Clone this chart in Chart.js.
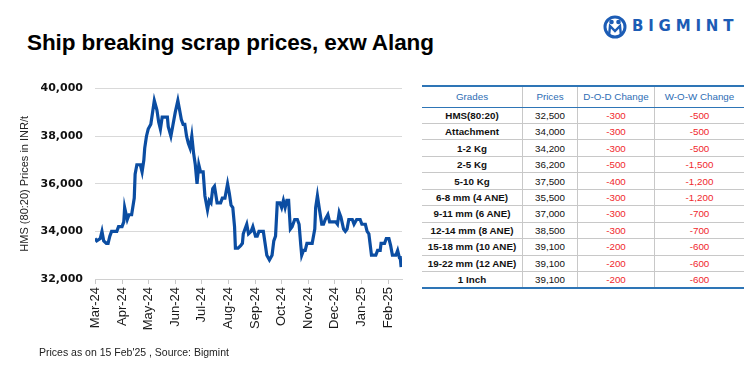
<!DOCTYPE html>
<html>
<head>
<meta charset="utf-8">
<script src="https://cdn.jsdelivr.net/npm/chart.js@4.4.1/dist/chart.umd.min.js"></script>
<style>
body{margin:0;width:756px;height:374px;background:#fff;position:relative;overflow:hidden;font-family:"Liberation Sans",Arial,sans-serif}
#title{position:absolute;left:27px;top:32px;font:bold 22.5px/22px "Liberation Sans",Arial,sans-serif;letter-spacing:-0.1px;color:#000;white-space:nowrap}
#logo{position:absolute;left:603px;top:15px;height:22px;white-space:nowrap}
#logo svg{position:absolute;left:0;top:0}
#logo span{position:absolute;left:29px;top:3px;font:bold 15px/16px "DejaVu Sans",sans-serif;letter-spacing:4.8px;color:#1c5cb5}
#chartBox{position:absolute;left:0;top:70px;width:410px;height:280px}
#note{position:absolute;left:39px;top:346px;font:10.5px/12px "Liberation Sans",Arial,sans-serif;color:#222;white-space:nowrap}
#tbl{position:absolute;left:422px;top:85px;width:322px}
.row{position:absolute;left:0;width:322px;display:flex;box-sizing:border-box;border-bottom:1px solid #c8c8c8}
.row div{box-sizing:border-box;display:flex;align-items:center;justify-content:center;font-size:9.8px;color:#111;height:100%}
.row div+div{border-left:1px solid #c8c8c8}
.hdr{border-top:2px solid #2e75b6;border-bottom:1.5px solid #2e75b6}
.hdr div{color:#2e6db4 !important}
.last{border-bottom:2px solid #2e75b6}
.g{font-weight:bold}
.neg{color:#f0282d !important}
</style>
</head>
<body>
<div id="title">Ship breaking scrap prices, exw Alang</div>
<div id="logo">
  <svg width="24" height="24" viewBox="0 0 24 24">
    <circle cx="12" cy="12" r="10" fill="none" stroke="#1c5cb5" stroke-width="3"/>
    <circle cx="8.5" cy="7" r="2.3" fill="#1c5cb5"/>
    <circle cx="15.5" cy="7" r="2.3" fill="#1c5cb5"/>
    <path d="M6 21 L7 11 L12 16 L17 11 L18 21" fill="none" stroke="#1c5cb5" stroke-width="2.4"/>
  </svg>
  <span>BIGMINT</span>
</div>
<div id="chartBox"><canvas id="myChart" width="410" height="280"></canvas></div>
<div id="note">Prices as on 15 Feb'25 , Source: Bigmint</div>
<div id="tbl"></div>
<script>
// HMS (80:20) daily prices, x = days since 1 Mar 2024
var days = [0,2,6,8,10,13,15,17,19,25,
  27,31,33,34,37,39,42,45,46,48,
  52,54,56,57,59,61,64,66,68,71,
  73,75,77,83,84,87,89,92,95,97,
  99,101,103,105,107,109,111,113,115,117,
  119,121,124,126,129,131,133,135,137,140,
  144,146,149,152,154,156,158,160,161,164,
  167,169,170,172,174,176,179,181,184,186,
  188,193,195,197,200,203,205,207,209,212,
  214,216,218,220,222,224,226,229,232,234,
  236,237,239,241,243,249,251,252,253,255,
  257,260,262,264,267,269,272,276,278,280,
  282,285,287,289,291,295,297,300,304,306,
  310,312,314,317,322,324,327,328,332,334,
  337,339,341,345,347,349,350,351];
var prices = [33700,33600,33700,34000,33600,33500,33500,33800,34000,34000,
  34200,34200,34400,35000,34500,34700,34700,35400,36400,36800,
  36800,36500,37000,37500,38000,38300,38500,39000,39500,39100,
  38600,38300,38800,38800,38400,38000,38400,39000,39500,39100,
  38700,38500,38500,38000,37700,37500,38000,37300,36800,36000,
  36800,36500,36500,35500,34900,35300,35200,35800,35900,35200,
  35200,35400,35400,36000,35600,35100,35000,34200,33300,33300,
  33400,33500,33900,34100,34300,33900,34000,34200,33800,33800,
  34000,34000,33500,33000,32800,33000,33600,33800,35200,35200,
  35000,35300,35000,35300,35300,34100,34200,34500,34500,34300,
  33400,33000,33200,33200,33500,33500,33900,34100,35000,35500,
  35000,34300,34300,34500,34700,34400,34400,34400,34300,34800,
  34600,34100,34000,34100,34500,34500,34300,34500,34500,34300,
  34300,34000,33900,33000,33000,33200,33200,33500,33500,33700,
  33700,33400,33000,33000,33200,32900,32900,32500];

// month ticks
var monthDays = [0,31,61,92,122,153,184,214,245,275,306,337];
var monthLabels = ['Mar-24','Apr-24','May-24','Jun-24','Jul-24','Aug-24','Sep-24','Oct-24','Nov-24','Dec-24','Jan-25','Feb-25'];
var yMin = 32000, yMax = 40000, yStep = 2000;

// table
var grades = ['HMS(80:20)','Attachment','1-2 Kg','2-5 Kg','5-10 Kg','6-8 mm (4 ANE)','9-11 mm (6 ANE)','12-14 mm (8 ANE)','15-18 mm (10 ANE)','19-22 mm (12 ANE)','1 Inch'];
var gradePrices = [32500,34000,34200,36200,37500,35500,37000,38500,39100,39100,39100];
var dodChange = [-300,-300,-300,-500,-400,-300,-300,-300,-200,-200,-200];
var wowChange = [-500,-500,-500,-1500,-1200,-1200,-700,-700,-600,-600,-600];
var headers = ['Grades','Prices','D-O-D Change','W-O-W Change'];

function fmt(v){ return Number(v).toLocaleString('en-US'); }

//Table
function buildTable(){
    var colW = [100,55,77,90];
    var tbl = document.getElementById('tbl');
    function makeRow(cells, cls, top, h){
        var r = document.createElement('div');
        r.className = 'row ' + cls;
        r.style.top = top + 'px';
        r.style.height = h + 'px';
        cells.forEach(function(c, i){
            var d = document.createElement('div');
            d.style.width = colW[i] + 'px';
            d.textContent = c.t;
            if (c.cls) d.className = c.cls;
            r.appendChild(d);
        });
        tbl.appendChild(r);
    }
    makeRow(headers.map(function(h){ return {t:h}; }), 'hdr', 0, 22.5);
    var rowH = 16.45;
    for (var i = 0; i < grades.length; i++){
        makeRow([
            {t:grades[i], cls:'g'},
            {t:fmt(gradePrices[i])},
            {t:fmt(dodChange[i]), cls:'neg'},
            {t:fmt(wowChange[i]), cls:'neg'}
        ], i == grades.length-1 ? 'last' : '', 22.5 + i*rowH, i == grades.length-1 ? rowH+1 : rowH);
    }
}//End Table
buildTable();

//Graphic price line
var ctx = document.getElementById('myChart').getContext('2d');
var points = days.map(function(d, i){ return {x:d, y:prices[i]}; });
var myLineChart = new Chart(ctx, {
    type: 'line',
    data: {
        datasets: [{
            data: points,
            borderColor: '#0b4da2',
            borderWidth: 3.2,
            pointRadius: 0,
            tension: 0,
            fill: false
        }]
    },
    options: {
        responsive: false,
        animation: false,
        devicePixelRatio: 1,
        layout: { padding: { top: 17, right: 8, left: 0, bottom: 0 } },
        plugins: { legend: { display: false }, tooltip: { enabled: false } },
        scales: {
            x: {
                type: 'linear',
                min: 0,
                max: 352,
                afterBuildTicks: function(s){ s.ticks = monthDays.map(function(v){ return {value:v}; }); },
                afterFit: function(s){ s.height = 71; },
                ticks: {
                    autoSkip: false,
                    maxRotation: 90,
                    minRotation: 90,
                    padding: 3,
                    color: '#1a1a1a',
                    font: { family: 'Liberation Sans', size: 13 },
                    callback: function(v, i){ return monthLabels[i]; }
                },
                grid: { drawOnChartArea: false, drawTicks: true, tickLength: 5, color: '#c8c8c8' },
                border: { color: '#d0d0d0', width: 1 }
            },
            y: {
                min: yMin,
                max: yMax,
                afterFit: function(s){ s.width = 95; },
                ticks: {
                    stepSize: yStep,
                    padding: 12,
                    color: '#111',
                    font: { family: 'DejaVu Sans', size: 11, weight: 'bold' },
                    callback: function(v){ return fmt(v); }
                },
                grid: { color: '#d9d9d9', drawTicks: false },
                border: { display: false },
                title: {
                    display: true,
                    text: 'HMS (80:20) Prices in INR/t',
                    color: '#222',
                    font: { family: 'Liberation Sans', size: 11 },
                    padding: { top: 18, bottom: 0 }
                }
            }
        }
    }
});
</script>
</body>
</html>
